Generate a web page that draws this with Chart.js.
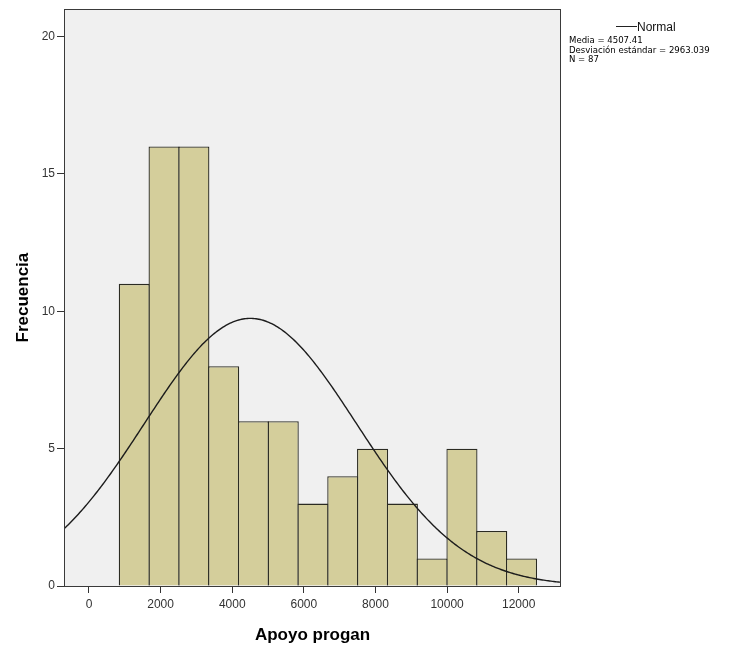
<!DOCTYPE html>
<html>
<head>
<meta charset="utf-8">
<script src="https://cdn.jsdelivr.net/npm/chart.js@4.4.1/dist/chart.umd.min.js"></script>
<style>
  html, body { margin: 0; padding: 0; background: #ffffff; }
  #wrap { width: 739px; height: 653px; position: relative; }
</style>
</head>
<body>
<div id="wrap"><canvas id="chart" width="739" height="653"></canvas></div>
<script>
// Class midpoints of "Apoyo progan" (class width ~831.8)
const binMidpoints = [1264.9, 2096.7, 2928.5, 3760.3, 4592.1, 5423.9, 6255.7,
                      7087.5, 7919.3, 8751.1, 9582.9, 10414.7, 11246.5, 12078.3];
const frequencies  = [11, 16, 16, 8, 6, 6, 3, 4, 5, 3, 1, 5, 2, 1];
const binWidth = 831.8;

// Summary statistics printed next to the plot
const mean = 4507.41;
const stdDev = 2963.039;
const nCases = 87;

const xTickValues = [0, 2000, 4000, 6000, 8000, 10000, 12000];
const yTickValues = [0, 5, 10, 15, 20];
const xRange = [-698, 13181];
const yRange = [0, 21];

// Fitted normal density scaled to frequency units (N * class width * pdf)
const normalCurve = [];
for (let x = xRange[0] - 40; x <= xRange[1] + 40; x += 40) {
  const z = (x - mean) / stdDev;
  const pdf = Math.exp(-0.5 * z * z) / (stdDev * Math.sqrt(2 * Math.PI));
  normalCurve.push({ x: x, y: nCases * binWidth * pdf });
}

const BODY_FONT = '"Liberation Sans", Arial, sans-serif';
Chart.defaults.font.family = BODY_FONT;

const plotFrame = {
  id: 'plotFrame',
  beforeDraw(chart) {
    const { ctx, chartArea: a } = chart;
    ctx.save();
    ctx.fillStyle = '#f0f0f0';
    ctx.fillRect(a.left, a.top, a.right - a.left, a.bottom - a.top);
    ctx.restore();
  },
  afterDatasetsDraw(chart) {
    const { ctx, chartArea: a } = chart;
    ctx.save();
    ctx.strokeStyle = '#3a3a3a';
    ctx.lineWidth = 1;
    ctx.strokeRect(Math.round(a.left) + 0.5, Math.round(a.top) + 0.5,
                   Math.round(a.right - a.left) - 1, Math.round(a.bottom - a.top));
    ctx.restore();
  },
  afterDraw(chart) {
    const ctx = chart.ctx;
    ctx.save();
    // Legend: line sample and label
    ctx.strokeStyle = '#222';
    ctx.lineWidth = 1;
    ctx.beginPath();
    ctx.moveTo(616, 26.5);
    ctx.lineTo(637, 26.5);
    ctx.stroke();
    ctx.fillStyle = '#111';
    ctx.textBaseline = 'alphabetic';
    ctx.textAlign = 'left';
    ctx.font = '12px ' + BODY_FONT;
    ctx.fillText('Normal', 637, 31);
    ctx.fillStyle = '#000';
    ctx.font = '9.5px "Liberation Sans Narrow", "DejaVu Sans Condensed", sans-serif';
    ctx.fillText('Media = ' + mean, 569, 43);
    ctx.fillText('Desviación estándar = ' + stdDev.toFixed(3), 569, 52.5);
    ctx.fillText('N = ' + nCases, 569, 62);
    ctx.restore();
  }
};

new Chart(document.getElementById('chart'), {
  data: {
    datasets: [
      {
        type: 'line',
        data: normalCurve,
        borderColor: '#1c1c1c',
        borderWidth: 1.4,
        pointRadius: 0,
        tension: 0,
        order: 0
      },
      {
        type: 'bar',
        data: binMidpoints.map((x, i) => ({ x: x, y: frequencies[i] })),
        backgroundColor: '#d4ce9b',
        borderColor: '#2b2b22',
        borderWidth: 1.3,
        barPercentage: 1.044,
        categoryPercentage: 1,
        inflateAmount: 0,
        order: 1
      }
    ]
  },
  options: {
    responsive: false,
    animation: false,
    devicePixelRatio: 1,
    layout: { padding: { left: 0, top: 9, right: 178, bottom: 0 } },
    plugins: { legend: { display: false }, tooltip: { enabled: false } },
    scales: {
      x: {
        type: 'linear',
        offset: false,
        min: xRange[0],
        max: xRange[1],
        afterFit(s) { s.height = 67; },
        afterBuildTicks(s) { s.ticks = xTickValues.map(v => ({ value: v })); },
        grid: { offset: false, drawOnChartArea: false, drawTicks: true, tickLength: 7, tickColor: '#333', tickWidth: 1 },
        border: { display: false },
        ticks: { color: '#333', font: { size: 12 }, padding: 4, maxRotation: 0, autoSkip: false,
                 callback: v => String(v) },
        title: { display: true, text: 'Apoyo progan', color: '#000',
                 font: { size: 17, weight: 'bold' }, padding: { top: 0, bottom: 7 } }
      },
      y: {
        type: 'linear',
        position: 'left',
        min: yRange[0],
        max: yRange[1],
        afterFit(s) { s.width = 64; },
        afterBuildTicks(s) { s.ticks = yTickValues.map(v => ({ value: v })); },
        grid: { drawOnChartArea: false, drawTicks: true, tickLength: 7, tickColor: '#333', tickWidth: 1 },
        border: { display: false },
        ticks: { color: '#333', font: { size: 12 }, padding: 2, callback: v => String(v) },
        title: { display: true, text: 'Frecuencia', color: '#000',
                 font: { size: 17, weight: 'bold' }, padding: { top: 13, bottom: 0 } }
      }
    }
  },
  plugins: [plotFrame]
});
</script>
</body>
</html>
